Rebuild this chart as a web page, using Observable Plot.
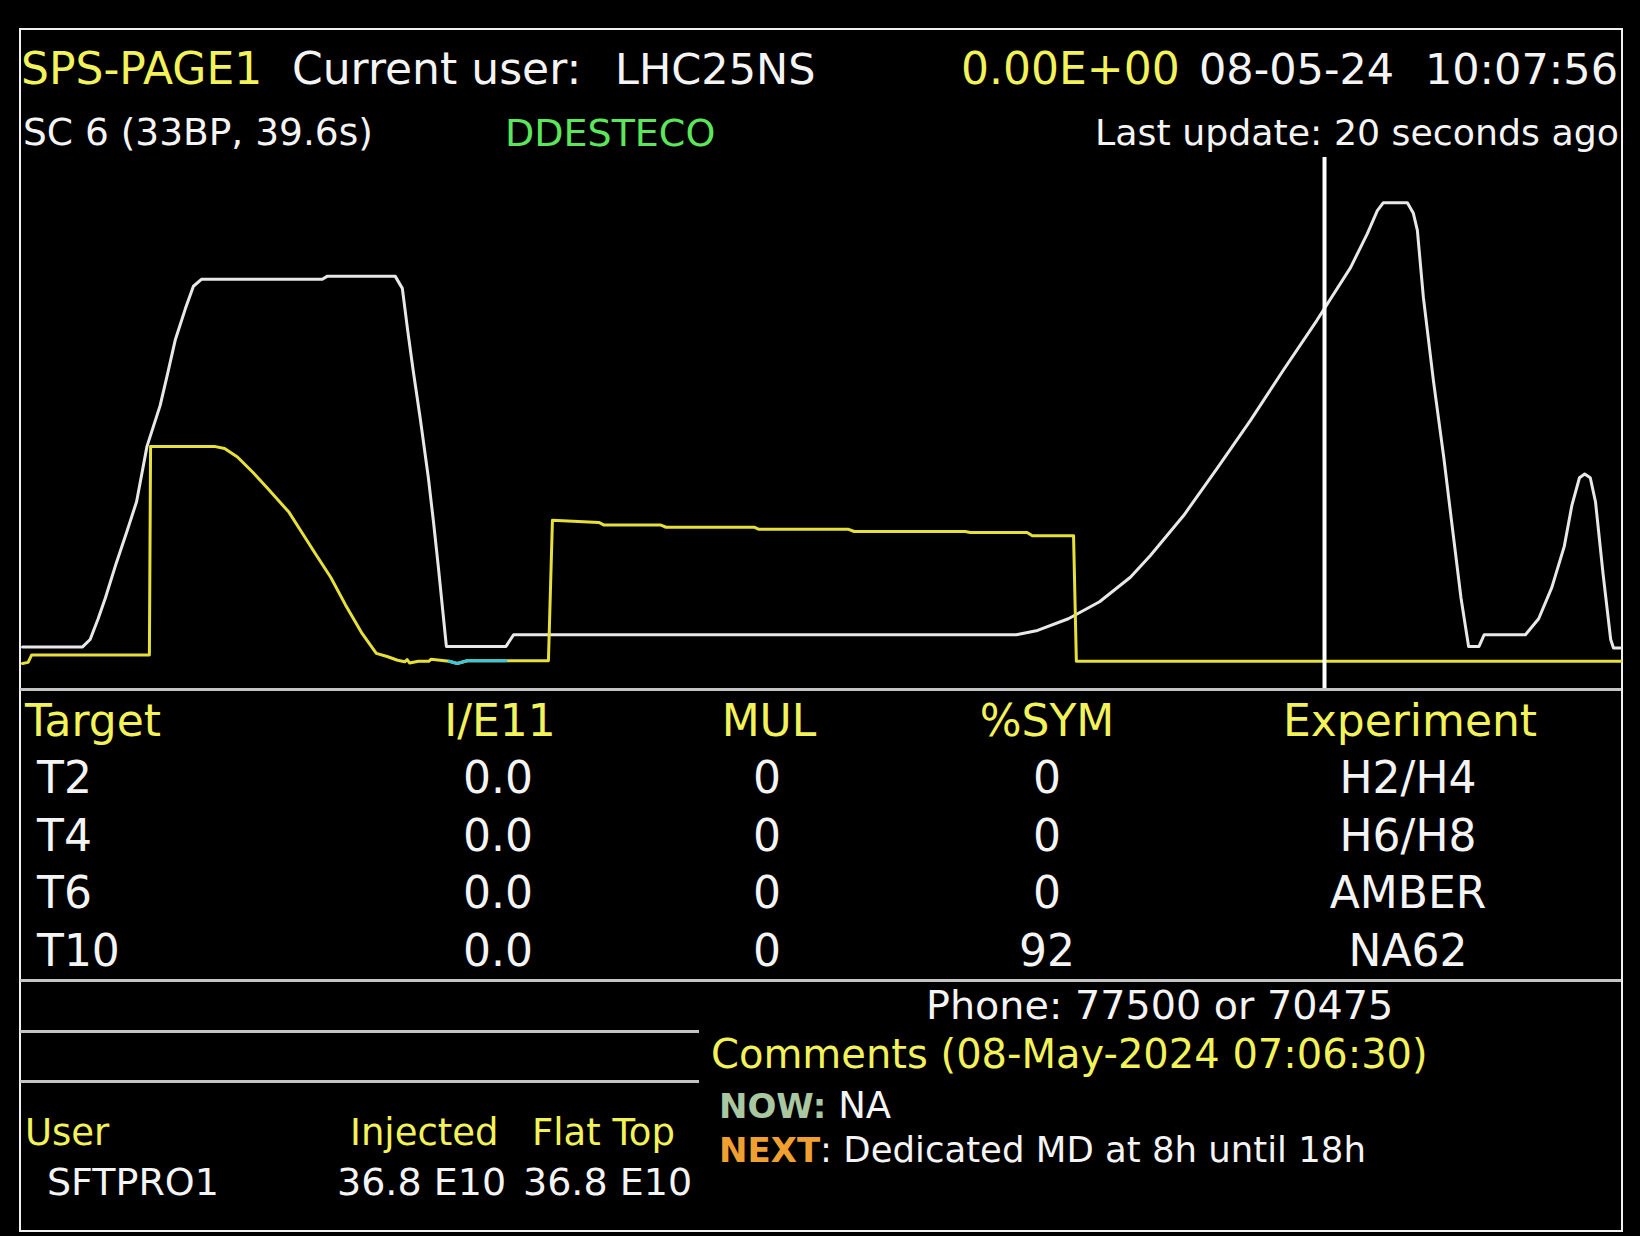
<!DOCTYPE html>
<html>
<head>
<meta charset="utf-8">
<script src="https://cdn.jsdelivr.net/npm/d3@7"></script>
<script src="https://cdn.jsdelivr.net/npm/@observablehq/plot@0.6"></script>
<style>
  html, body { margin: 0; padding: 0; background: #000; }
  #page { position: relative; width: 1640px; height: 1236px; background: #000; overflow: hidden; font-family: 'DejaVu Sans', sans-serif; }
</style>
</head>
<body>
<div id="page"></div>
<script>
// ---------- DATA ----------
// Header
const pageName = "SPS-PAGE1";
const currentUserLabel = "Current user:";
const currentUser = "LHC25NS";
const intensityReadout = "0.00E+00";
const dateText = "08-05-24";
const timeText = "10:07:56";
const supercycleText = "SC 6 (33BP, 39.6s)";
const sequenceName = "DDESTECO";
const lastUpdate = "Last update: 20 seconds ago";

// Supercycle traces (time in s, arbitrary 0-100 units)
const whiteT = [0.05, 1.55, 1.74, 1.94, 2.12, 2.39, 2.65, 2.90, 3.16, 3.49, 3.67, 3.87, 4.12, 4.32, 4.52,
  7.54, 7.67, 9.36, 9.54, 9.67, 9.81, 9.99, 10.19, 10.32, 10.44, 10.64, 12.13, 12.32, 24.88, 25.41,
  26.18, 26.96, 27.73, 28.23, 29.06, 29.91, 30.73, 31.55, 32.39, 33.23, 33.65, 33.90, 34.05, 34.65,
  34.80, 34.90, 35.05, 35.30, 35.56, 35.73, 35.99, 36.18, 36.44, 36.57, 37.60, 37.93, 38.26, 38.57,
  38.76, 38.95, 39.08, 39.22, 39.35, 39.54, 39.73, 39.80, 39.97];
const whiteV = [8.0, 8.0, 9.4, 13.3, 17.2, 23.7, 29.5, 35.3, 45.7, 53.4, 59.2, 65.8, 71.6, 75.8, 77.1,
  77.1, 77.7, 77.7, 75.4, 67.7, 60.0, 50.8, 39.8, 31.4, 23.0, 8.1, 8.1, 10.3, 10.3, 11.1,
  13.3, 16.5, 21.1, 25.2, 32.7, 41.7, 50.6, 60.0, 69.4, 79.3, 85.7, 90.0, 91.5, 91.5,
  89.5, 86.3, 73.7, 58.1, 43.6, 33.1, 17.2, 8.1, 8.1, 10.3, 10.3, 13.3, 19.2, 26.9,
  34.6, 39.8, 40.5, 39.8, 35.3, 21.7, 9.4, 7.8, 7.8];

const yellowT = [0.05, 0.19, 0.28, 3.22, 3.25, 4.84, 5.10, 5.42, 5.81, 6.20, 6.71, 7.03, 7.36, 7.75,
  8.12, 8.52, 8.89, 9.16, 9.42, 9.60, 9.66, 9.72, 9.94, 10.20, 10.26, 10.71, 10.91, 11.16, 12.13, 13.19, 13.29,
  14.45, 14.58, 16.00, 16.13, 18.33, 18.45, 20.69, 20.83, 23.60, 23.73, 25.15, 25.28, 26.31, 26.38, 39.99];
const yellowV = [4.9, 5.1, 6.5, 6.5, 45.7, 45.7, 45.3, 43.7, 40.8, 37.6, 33.3, 29.5, 25.6, 21.1,
  15.9, 10.7, 6.8, 6.2, 5.5, 5.2, 5.6, 5.0, 5.3, 5.3, 5.7, 5.3, 4.9, 5.4, 5.4, 5.4, 31.8,
  31.4, 30.9, 30.9, 30.5, 30.5, 30.1, 30.1, 29.7, 29.7, 29.5, 29.5, 28.9, 28.9, 5.3, 5.3];

const cyanT = [10.71, 10.91, 11.16, 12.13];
const cyanV = [5.3, 4.9, 5.4, 5.4];

const nowT = 32.58;

// Target table
const tableHeaders = ["Target", "I/E11", "MUL", "%SYM", "Experiment"];
const targets = ["T2", "T4", "T6", "T10"];
const intensities = ["0.0", "0.0", "0.0", "0.0"];
const multiplicities = ["0", "0", "0", "0"];
const symmetries = ["0", "0", "0", "92"];
const experiments = ["H2/H4", "H6/H8", "AMBER", "NA62"];

// Bottom block
const userHeaders = ["User", "Injected", "Flat Top"];
const userName = "SFTPRO1";
const injected = "36.8 E10";
const flatTop = "36.8 E10";
const phoneText = "Phone: 77500 or 70475";
const commentsText = "Comments (08-May-2024 07:06:30)";
const nowLabel = "NOW:";
const nowText = " NA";
const nextLabel = "NEXT";
const nextText = ": Dedicated MD at 8h until 18h";

// ---------- COLOURS ----------
const YEL_TXT = "#f2f25a";
const WHITE_TXT = "#f4f4f4";
const GREEN = "#5ce65c";
const NOWC = "#a9c7a0";
const NEXTC = "#f0a030";

// ---------- LAYOUT ----------
const page = document.getElementById("page");

function put(parts, x, baseline, size, anchor = "start") {
  const d = document.createElement("div");
  d.style.cssText = `position:absolute;white-space:pre;line-height:1;font-size:${size}px;font-family:'DejaVu Sans',sans-serif;top:${baseline - 0.846 * size}px;`;
  if (anchor === "start") d.style.left = x + "px";
  else if (anchor === "middle") { d.style.left = x + "px"; d.style.transform = "translateX(-50%)"; }
  else d.style.right = (1640 - x) + "px";
  for (const p of parts) {
    const [s, c, extra] = p;
    const sp = document.createElement("span");
    sp.textContent = s; sp.style.color = c;
    if (extra) Object.assign(sp.style, extra);
    d.appendChild(sp);
  }
  page.appendChild(d);
}
function hline(x1, x2, y, w, color) {
  const d = document.createElement("div");
  d.style.cssText = `position:absolute;left:${x1}px;top:${y - w / 2}px;width:${x2 - x1}px;height:${w}px;background:${color};`;
  page.appendChild(d);
}

// frame
const frame = document.createElement("div");
frame.style.cssText = "position:absolute;left:19px;top:28px;width:1604px;height:1204px;box-sizing:border-box;border:2px solid #f0f0f0;";
page.appendChild(frame);

// header
put([[pageName, YEL_TXT]], 21, 84, 44);
put([[currentUserLabel, WHITE_TXT]], 292, 84, 44);
put([[currentUser, WHITE_TXT]], 615, 84, 43);
put([[intensityReadout, YEL_TXT]], 961, 84, 44);
put([[dateText, WHITE_TXT]], 1199, 84, 43);
put([[timeText, WHITE_TXT]], 1618, 84, 43, "end");
put([[supercycleText, WHITE_TXT]], 23, 146, 37.5);
put([[sequenceName, GREEN]], 505, 146, 38);
put([[lastUpdate, WHITE_TXT]], 1619, 146, 36.3, "end");

// ---------- PLOT ----------
const white = whiteT.map((t, i) => ({t, v: whiteV[i]}));
const yellow = yellowT.map((t, i) => ({t, v: yellowV[i]}));
const cyan = cyanT.map((t, i) => ({t, v: cyanV[i]}));

const chart = Plot.plot({
  width: 1601,
  height: 540,
  marginTop: 7,
  marginBottom: 1,
  marginLeft: 0,
  marginRight: 0,
  x: {domain: [0, 40], axis: null},
  y: {domain: [0, 100], axis: null},
  style: {background: "transparent", overflow: "visible"},
  marks: [
    Plot.line(white, {x: "t", y: "v", stroke: "#e8e8e8", strokeWidth: 3}),
    Plot.line(yellow, {x: "t", y: "v", stroke: "#e6e03a", strokeWidth: 3}),
    Plot.line(cyan, {x: "t", y: "v", stroke: "#3cc6dc", strokeWidth: 3}),
    Plot.ruleX([nowT], {x: d => d, y1: 0, y2: 100, stroke: "#ffffff", strokeWidth: 4})
  ]
});
chart.style.position = "absolute";
chart.style.left = "20px";
chart.style.top = "150px";
page.appendChild(chart);

// separators
hline(20, 1621, 689, 3, "#c4c4c4");
hline(20, 1621, 980, 3, "#c4c4c4");
hline(20, 699, 1031, 3, "#c4c4c4");
hline(20, 699, 1081, 3, "#c4c4c4");

// table
const colX = [25, 500, 769, 1047, 1410];
put([[tableHeaders[0], YEL_TXT]], colX[0], 736, 44);
for (let j = 1; j < tableHeaders.length; j++) put([[tableHeaders[j], YEL_TXT]], colX[j], 736, 44, "middle");
const rowBase = [793, 851, 908, 966];
targets.forEach((tg, i) => {
  const b = rowBase[i];
  put([[tg, WHITE_TXT]], 37, b, 44);
  put([[intensities[i], WHITE_TXT]], 498, b, 44, "middle");
  put([[multiplicities[i], WHITE_TXT]], 767, b, 44, "middle");
  put([[symmetries[i], WHITE_TXT]], 1047, b, 44, "middle");
  put([[experiments[i], WHITE_TXT]], 1408, b, 44, "middle");
});

// bottom block
put([[userHeaders[0], YEL_TXT]], 25, 1145, 37);
put([[userHeaders[1], YEL_TXT]], 350, 1145, 37);
put([[userHeaders[2], YEL_TXT]], 532, 1145, 37);
put([[userName, WHITE_TXT]], 47, 1195, 38);
put([[injected, WHITE_TXT]], 337, 1195, 38);
put([[flatTop, WHITE_TXT]], 523, 1195, 38);

put([[phoneText, WHITE_TXT]], 926, 1020, 39.7);
put([[commentsText, YEL_TXT]], 711, 1068, 40);
put([[nowLabel, NOWC, {fontWeight: "bold", fontSize: "34px"}], [nowText, WHITE_TXT]], 719, 1118, 37);
put([[nextLabel, NEXTC, {fontWeight: "bold", fontSize: "34px"}], [nextText, WHITE_TXT]], 719, 1162, 35.5);
</script>
</body>
</html>
